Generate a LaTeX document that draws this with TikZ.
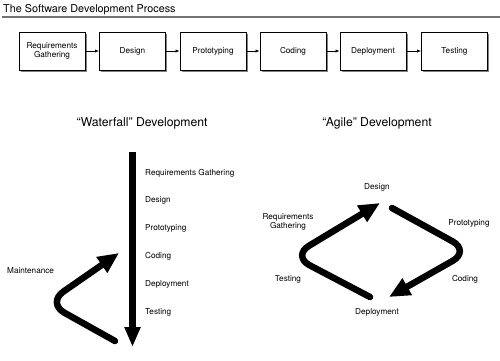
\documentclass[tikz,border=0pt]{standalone}
\usepackage{fontspec}
\setmainfont{TeX Gyre Heros}
\usetikzlibrary{arrows.meta,shadows}
\begin{document}
\begin{tikzpicture}[x=1pt,y=-1pt,
  procbox/.style={draw=black,line width=0.9pt,fill=white,minimum width=66pt,minimum height=38pt,
    inner sep=1pt,align=center,font=\fontsize{8.2}{9.5}\selectfont,
    drop shadow={shadow xshift=1.6pt,shadow yshift=-1.6pt,fill=black!70,opacity=0.7}},
  smallarrow/.style={line width=0.6pt,-{Latex[length=4pt,width=3.2pt]}},
  lbl/.style={font=\fontsize{8.2}{9.5}\selectfont,inner sep=0pt,align=center},
  bigtitle/.style={font=\fontsize{12.2}{14}\selectfont,inner sep=0pt},
  fatarrow/.style={line width=6.5pt,line cap=round,rounded corners=20pt,-{Triangle[length=21pt,width=18pt]}},
]
\useasboundingbox (0,0) rectangle (500,360);
\node[anchor=base west,inner sep=0pt,font=\fontsize{10.8}{12}\selectfont] (title) at (3,12) {The Software Development Process};
\coordinate (tl) at (2,17);
\coordinate (tr) at (500,17);
\draw[black!55,line width=1.5pt] (tl) -- (tr);

\node[procbox] (b1) at (52,51) {Requirements\\Gathering};
\node[procbox] (b2) at (132.5,51) {Design};
\node[procbox] (b3) at (213,51) {Prototyping};
\node[procbox] (b4) at (293,51) {Coding};
\node[procbox] (b5) at (373,51) {Deployment};
\node[procbox] (b6) at (454.5,51) {Testing};
\draw[smallarrow] (b1) -- (b2);
\draw[smallarrow] (b2) -- (b3);
\draw[smallarrow] (b3) -- (b4);
\draw[smallarrow] (b4) -- (b5);
\draw[smallarrow] (b5) -- (b6);

% Waterfall
\node[bigtitle] (wt) at (142,123) {“Waterfall” Development};
\coordinate (wtop) at (132.5,152);
\coordinate (wbot) at (132.5,347);
\draw[line width=6.5pt,-{Triangle[length=20pt,width=15pt]}] (wtop) -- (wbot);
\node[lbl,anchor=west] (w1) at (145,173) {Requirements Gathering};
\node[lbl,anchor=west] (w2) at (145,200) {Design};
\node[lbl,anchor=west] (w3) at (145,228) {Prototyping};
\node[lbl,anchor=west] (w4) at (145,256) {Coding};
\node[lbl,anchor=west] (w5) at (145,284) {Deployment};
\node[lbl,anchor=west] (w6) at (145,312) {Testing};
\node[lbl,anchor=west] (wm) at (7,271) {Maintenance};
\coordinate (ms) at (115,341);
\coordinate (mc) at (47,303);
\coordinate (me) at (119,253);
\draw[fatarrow] (ms) -- (mc) -- (me);

% Agile
\node[bigtitle] (at) at (377,123) {“Agile” Development};
\node[lbl] (a1) at (377,187) {Design};
\node[lbl] (a2) at (288,222) {Requirements\\Gathering};
\node[lbl] (a3) at (469,223) {Prototyping};
\node[lbl] (a4) at (288,279) {Testing};
\node[lbl] (a5) at (465,279) {Coding};
\node[lbl] (a6) at (377,312) {Deployment};
\coordinate (ls) at (370,297);
\coordinate (lc) at (292,256);
\coordinate (le) at (380,203);
\draw[fatarrow] (ls) -- (lc) -- (le);
\coordinate (rs) at (392,208);
\coordinate (rc) at (470,251);
\coordinate (re) at (389,297);
\draw[fatarrow] (rs) -- (rc) -- (re);
\end{tikzpicture}
\end{document}
